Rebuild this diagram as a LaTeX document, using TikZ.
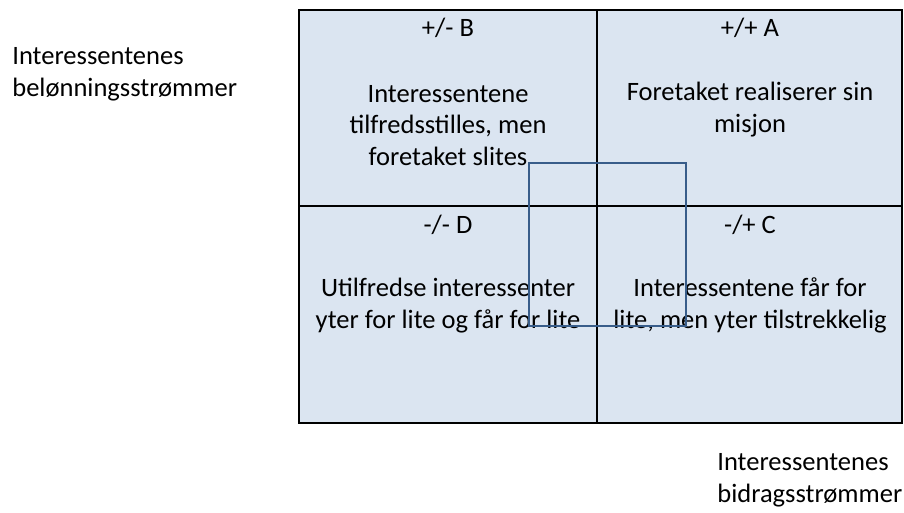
\documentclass[tikz,border=0pt]{standalone}
\usepackage{fontspec}
\setmainfont{Carlito}
\definecolor{cellblue}{HTML}{DBE5F1}
\definecolor{boxblue}{HTML}{385D8A}

\begin{document}
\begin{tikzpicture}[x=0.02cm, y=-0.02cm, font=\fontsize{15.1}{17.8}\selectfont,
	cellhead/.style={anchor=base, inner sep=0pt},
	celltext/.style={anchor=base, align=center, inner sep=0pt},
	sidetext/.style={anchor=base west, align=left, inner sep=0pt}]
	\useasboundingbox (0,0) rectangle (904,512);
	% matrix
	\draw[line width=1.4pt, fill=cellblue] (299,10) rectangle (902,423);
	\draw[line width=1.4pt] (597,10) -- (597,423);
	\draw[line width=1.4pt] (299,206) -- (902,206);
	% quadrant texts (base = last line)
	\node[cellhead] (headB) at (448,36) {+/- B};
	\node[cellhead] (headA) at (750,36) {+/+ A};
	\node[cellhead] (headD) at (448,233) {-/- D};
	\node[cellhead] (headC) at (750,233) {-/+ C};
	\node[celltext] (textB) at (448,165) {Interessentene\\tilfredsstilles, men\\foretaket slites};
	\node[celltext] (textA) at (750,132) {Foretaket realiserer sin\\misjon};
	\node[celltext] (textD) at (448,328) {Utilfredse interessenter\\yter for lite og får for lite};
	\node[celltext] (textC) at (750,328) {Interessentene får for\\lite, men yter tilstrekkelig};
	% inner square
	\draw[boxblue, line width=1.1pt] (529,163) rectangle (686,326);
	% axis texts
	\node[sidetext] (belonning) at (12,96) {Interessentenes\\belønningsstrømmer};
	\node[sidetext] (bidrag) at (717,502) {Interessentenes\\bidragsstrømmer};
\end{tikzpicture}
\end{document}
